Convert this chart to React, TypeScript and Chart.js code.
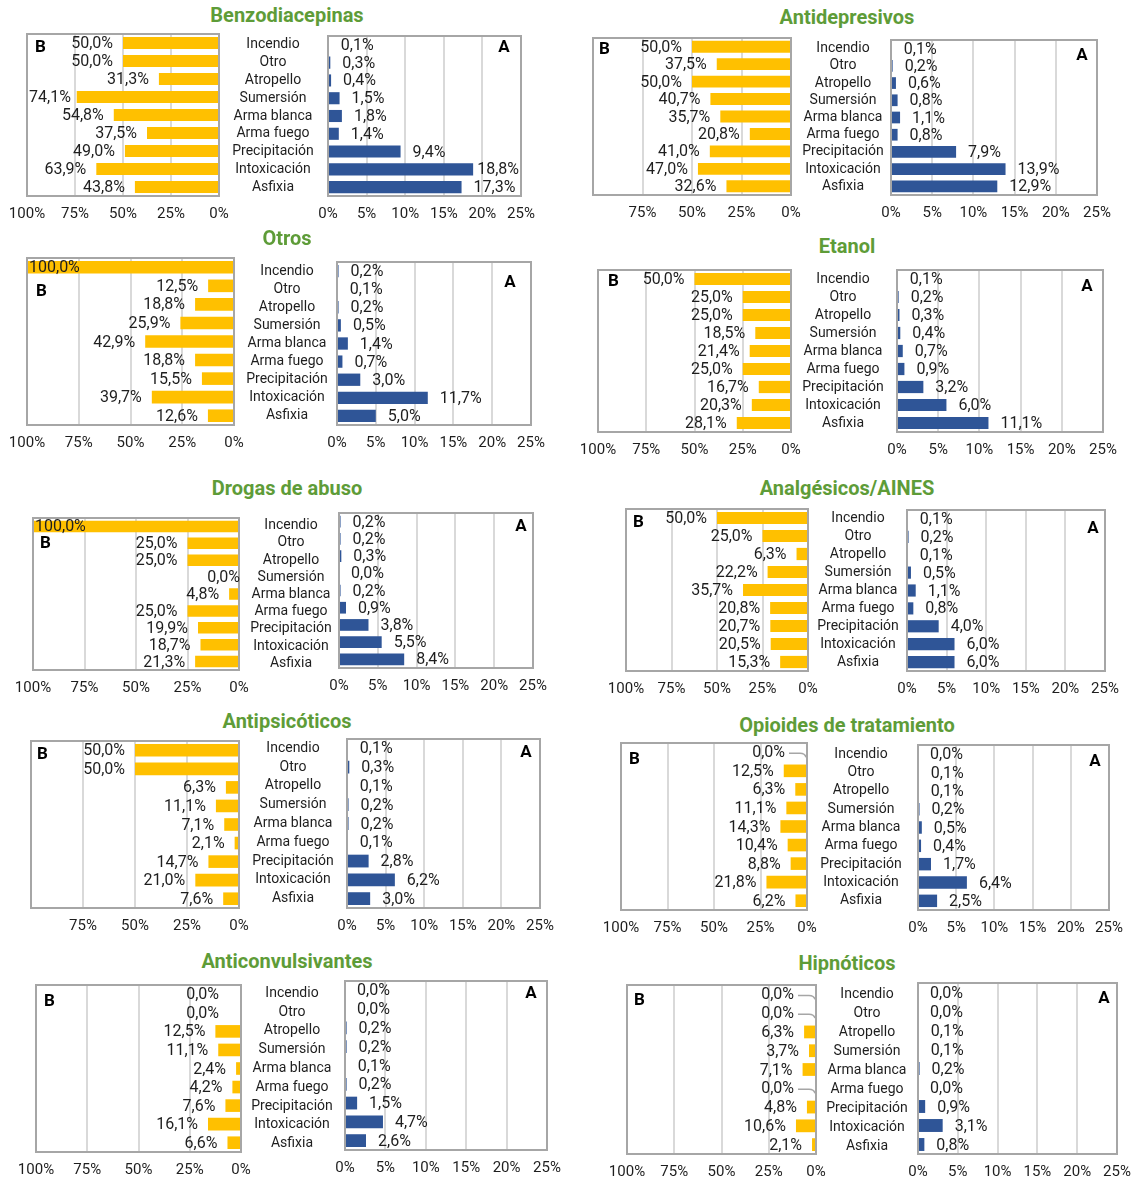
import React, { useEffect, useRef } from 'react';
import { Chart, registerables } from 'chart.js';

Chart.register(...registerables);
Chart.defaults.font.family = 'Roboto';

// ---------- DATA ----------
const categories = ['Incendio', 'Otro', 'Atropello', 'Sumersión', 'Arma blanca', 'Arma fuego', 'Precipitación', 'Intoxicación', 'Asfixia'];

const bTicks = [0, 25, 50, 75, 100];
const aTicks = [0, 5, 10, 15, 20, 25];

const benzoB = [50.0, 50.0, 31.3, 74.1, 54.8, 37.5, 49.0, 63.9, 43.8];
const benzoA = [0.1, 0.3, 0.4, 1.5, 1.8, 1.4, 9.4, 18.8, 17.3];

const antidepB = [50.0, 37.5, 50.0, 40.7, 35.7, 20.8, 41.0, 47.0, 32.6];
const antidepA = [0.1, 0.2, 0.6, 0.8, 1.1, 0.8, 7.9, 13.9, 12.9];

const otrosB = [100.0, 12.5, 18.8, 25.9, 42.9, 18.8, 15.5, 39.7, 12.6];
const otrosA = [0.2, 0.1, 0.2, 0.5, 1.4, 0.7, 3.0, 11.7, 5.0];

const etanolB = [50.0, 25.0, 25.0, 18.5, 21.4, 25.0, 16.7, 20.3, 28.1];
const etanolA = [0.1, 0.2, 0.3, 0.4, 0.7, 0.9, 3.2, 6.0, 11.1];

const drogasB = [100.0, 25.0, 25.0, 0.0, 4.8, 25.0, 19.9, 18.7, 21.3];
const drogasA = [0.2, 0.2, 0.3, 0.0, 0.2, 0.9, 3.8, 5.5, 8.4];

const analgB = [50.0, 25.0, 6.3, 22.2, 35.7, 20.8, 20.7, 20.5, 15.3];
const analgA = [0.1, 0.2, 0.1, 0.5, 1.1, 0.8, 4.0, 6.0, 6.0];

const antipsB = [50.0, 50.0, 6.3, 11.1, 7.1, 2.1, 14.7, 21.0, 7.6];
const antipsA = [0.1, 0.3, 0.1, 0.2, 0.2, 0.1, 2.8, 6.2, 3.0];

const opioB = [0.0, 12.5, 6.3, 11.1, 14.3, 10.4, 8.8, 21.8, 6.2];
const opioA = [0.0, 0.1, 0.1, 0.2, 0.5, 0.4, 1.7, 6.4, 2.5];

const anticonvB = [0.0, 0.0, 12.5, 11.1, 2.4, 4.2, 7.6, 16.1, 6.6];
const anticonvA = [0.0, 0.0, 0.2, 0.2, 0.1, 0.2, 1.5, 4.7, 2.6];

const hipnoB = [0.0, 0.0, 6.3, 3.7, 7.1, 0.0, 4.8, 10.6, 2.1];
const hipnoA = [0.0, 0.0, 0.1, 0.1, 0.2, 0.0, 0.9, 3.1, 0.8];

// ---------- LAYOUT ----------
type Rect = [number, number, number, number]; // left, right, top, bottom
interface Panel {
  title: string; b: number[]; a: number[];
  tx: number; ty: number; B: Rect; A: Rect; xc: number;
  bl: [number, number]; al: [number, number];
  hide100?: boolean; leader?: boolean; zeroGapB?: number; catDy?: number;
}

const panels: Panel[] = [
  { title: 'Benzodiacepinas', b: benzoB, a: benzoA, tx: 287, ty: 15, B: [27, 219, 34, 196], A: [328, 521, 36, 196], xc: 273, bl: [8, 14], al: [17, 12] },
  { title: 'Antidepresivos', b: antidepB, a: antidepA, tx: 847, ty: 17, B: [593, 791, 38, 195], A: [891, 1097, 40, 195], xc: 843, bl: [6, 12], al: [15, 16], hide100: true },
  { title: 'Otros', b: otrosB, a: otrosA, tx: 287, ty: 238, B: [27, 234, 258, 425], A: [337, 531, 262, 425], xc: 287, bl: [9, 34], al: [21, 21] },
  { title: 'Etanol', b: etanolB, a: etanolA, tx: 847, ty: 246, B: [598, 791, 270, 432], A: [897, 1103, 270, 432], xc: 843, bl: [10, 12], al: [16, 17] },
  { title: 'Drogas de abuso', b: drogasB, a: drogasA, tx: 287, ty: 488, B: [33, 239, 518, 670], A: [339, 533, 513, 668], xc: 291, bl: [7, 26], al: [12, 14], zeroGapB: -1, catDy: 4 },
  { title: 'Analgésicos/AINES', b: analgB, a: analgA, tx: 847, ty: 488, B: [626, 808, 509, 671], A: [907, 1105, 510, 671], xc: 858, bl: [7, 14], al: [12, 19] },
  { title: 'Antipsicóticos', b: antipsB, a: antipsA, tx: 287, ty: 721, B: [31, 239, 741, 908], A: [347, 540, 739, 908], xc: 293, bl: [6, 14], al: [14, 14], hide100: true },
  { title: 'Opioides de tratamiento', b: opioB, a: opioA, tx: 847, ty: 725, B: [621, 807, 743, 910], A: [918, 1109, 745, 910], xc: 861, bl: [8, 17], al: [14, 17], leader: true, zeroGapB: 22 },
  { title: 'Anticonvulsivantes', b: anticonvB, a: anticonvA, tx: 287, ty: 961, B: [36, 241, 985, 1152], A: [345, 547, 981, 1150], xc: 292, bl: [8, 17], al: [16, 13], zeroGapB: 22, catDy: 3 },
  { title: 'Hipnóticos', b: hipnoB, a: hipnoA, tx: 847, ty: 963, B: [627, 816, 985, 1154], A: [918, 1117, 983, 1154], xc: 867, bl: [7, 16], al: [13, 16], leader: true, zeroGapB: 22, catDy: 2 },
];

const TEXT = '#1E1E1E';
const GRID = '#D9D9D9';
const FRAME = '#A6A6A6';
const YELLOW = '#FFC000';
const BLUE = '#2F5597';
const GREEN = '#5E9C38';
const TICK_FONT = { family: 'Roboto', size: 15 };
const CAT_FONT = { family: 'Roboto', size: 14 };
const VALUE_FONT = '16px Roboto';

const fmt = (v: number) => v.toFixed(1).replace('.', ',') + '%';

// ---------- PLUGIN ----------
const panelDeco = {
  id: 'panelDeco',
  afterDatasetsDraw(chart: any, _args: any, opts: any) {
    const { ctx, chartArea: ca } = chart;
    ctx.save();
    ctx.strokeStyle = FRAME;
    ctx.lineWidth = 2;
    ctx.strokeRect(ca.left, ca.top, ca.right - ca.left, ca.bottom - ca.top);

    ctx.fillStyle = '#000';
    ctx.font = 'bold 17px Roboto';
    ctx.textBaseline = 'middle';
    if (opts.side === 'B') {
      ctx.textAlign = 'left';
      ctx.fillText('B', ca.left + opts.letter[0], ca.top + opts.letter[1]);
    } else {
      ctx.textAlign = 'center';
      ctx.fillText('A', ca.right - opts.letter[0], ca.top + opts.letter[1]);
    }

    ctx.font = VALUE_FONT;
    ctx.fillStyle = TEXT;
    ctx.textAlign = 'left';
    const meta = chart.getDatasetMeta(0);
    const data = chart.data.datasets[0].data as number[];
    meta.data.forEach((el: any, i: number) => {
      const v = data[i];
      const txt = fmt(v);
      const w = ctx.measureText(txt).width;
      const y = el.y + 1;
      let left: number;
      if (opts.side === 'B') {
        const gap = v === 0 && opts.zeroGap !== undefined ? opts.zeroGap : 10;
        left = el.x - gap - w;
        if (left < ca.left + 2) left = ca.left + 2;
        if (v === 0 && opts.leader) {
          const base = el.base;
          ctx.save();
          ctx.strokeStyle = FRAME;
          ctx.lineWidth = 1.5;
          ctx.beginPath();
          ctx.moveTo(base - 18, y);
          ctx.lineTo(base - 7, y);
          ctx.quadraticCurveTo(base - 2, y, base - 1, y + 4);
          ctx.stroke();
          ctx.restore();
        }
      } else {
        left = el.x + 12;
        if (left + w > ca.right - 2) left = ca.right - 2 - w;
      }
      ctx.fillText(txt, left, y);
    });
    ctx.restore();
  },
};

// ---------- CONFIG BUILDERS ----------
const AXIS_H = 34;

function xAxis(ticksArr: number[], reverse: boolean, hide100?: boolean) {
  return {
    min: ticksArr[0], max: ticksArr[ticksArr.length - 1], reverse,
    afterFit: (s: any) => { s.height = AXIS_H; },
    afterBuildTicks: (s: any) => { s.ticks = ticksArr.map((v) => ({ value: v })); },
    grid: { color: GRID, lineWidth: 2, drawTicks: false },
    border: { display: false },
    ticks: {
      padding: 9, color: TEXT, font: TICK_FONT, maxRotation: 0, autoSkip: false,
      callback: (v: any) => (hide100 && v === 100 ? '' : v + '%'),
    },
  };
}

function makeB(p: Panel) {
  const [l, r, t, b] = p.B;
  const padL = 30, padR = 30, padT = 10;
  return {
    left: l - padL, top: t - padT,
    width: r - l + padL + padR, height: b - t + padT + AXIS_H,
    config: {
      type: 'bar',
      data: {
        labels: categories,
        datasets: [{ data: p.b, backgroundColor: YELLOW, barPercentage: 0.68, categoryPercentage: 1 }],
      },
      options: {
        indexAxis: 'y', responsive: false, animation: false,
        layout: { padding: { left: padL, right: padR, top: padT, bottom: 0 } },
        plugins: {
          legend: { display: false }, tooltip: { enabled: false },
          panelDeco: { side: 'B', letter: p.bl, leader: !!p.leader, zeroGap: p.zeroGapB },
        },
        scales: {
          x: xAxis(bTicks, true, p.hide100),
          y: { display: false },
        },
      },
      plugins: [panelDeco],
    },
  };
}

function makeA(p: Panel, widest: number) {
  const [l, r, t, b] = p.A;
  const canvasLeft = p.xc - 80;
  const axisW = l - canvasLeft;
  const padR = 30, padT = 40;
  return {
    left: canvasLeft, top: t - padT,
    width: r - canvasLeft + padR, height: b - t + padT + AXIS_H,
    config: {
      type: 'bar',
      data: {
        labels: categories,
        datasets: [{ data: p.a, backgroundColor: BLUE, barPercentage: 0.68, categoryPercentage: 1 }],
      },
      options: {
        indexAxis: 'y', responsive: false, animation: false,
        layout: { padding: { left: 0, right: padR, top: padT, bottom: 0 } },
        plugins: {
          legend: { display: false }, tooltip: { enabled: false },
          panelDeco: { side: 'A', letter: p.al },
        },
        scales: {
          x: xAxis(aTicks, false),
          y: {
            position: 'left',
            afterFit: (s: any) => { s.width = axisW; },
            grid: { display: false, drawTicks: false },
            border: { display: false },
            ticks: {
              crossAlign: 'center', autoSkip: false, color: TEXT, font: CAT_FONT,
              labelOffset: p.catDy || 0,
              padding: Math.max(0, l - p.xc - widest / 2),
            },
          },
        },
      },
      plugins: [panelDeco],
    },
  };
}

// ---------- COMPONENTS ----------
function ChartCanvas({ spec }: { spec: any }) {
  const ref = useRef<HTMLCanvasElement>(null);
  useEffect(() => {
    const chart = new Chart(ref.current as HTMLCanvasElement, spec.config);
    return () => chart.destroy();
  }, []);
  return (
    <canvas
      ref={ref}
      width={spec.width}
      height={spec.height}
      style={{ position: 'absolute', left: spec.left, top: spec.top, width: spec.width, height: spec.height }}
    />
  );
}

function measureWidest(): number {
  const c = document.createElement('canvas').getContext('2d');
  if (!c) return 80;
  c.font = '14px Roboto';
  return Math.max(...categories.map((s) => c.measureText(s).width));
}

function PanelView({ p, widest }: { p: Panel; widest: number }) {
  const bSpec = makeB(p);
  const aSpec = makeA(p, widest);
  return (
    <>
      <div
        style={{
          position: 'absolute', left: p.tx - 200, width: 400, top: p.ty - 13, height: 26,
          lineHeight: '26px', textAlign: 'center', color: GREEN, fontWeight: 'bold', fontSize: 20,
          fontFamily: 'Roboto',
        }}
      >
        {p.title}
      </div>
      <ChartCanvas spec={bSpec} />
      <ChartCanvas spec={aSpec} />
    </>
  );
}

export default function App() {
  const widest = measureWidest();
  return (
    <div style={{ position: 'absolute', left: 0, top: 0, width: 1136, height: 1177, background: '#fff', fontFamily: 'Roboto' }}>
      {panels.map((p) => (
        <PanelView key={p.title} p={p} widest={widest} />
      ))}
    </div>
  );
}
